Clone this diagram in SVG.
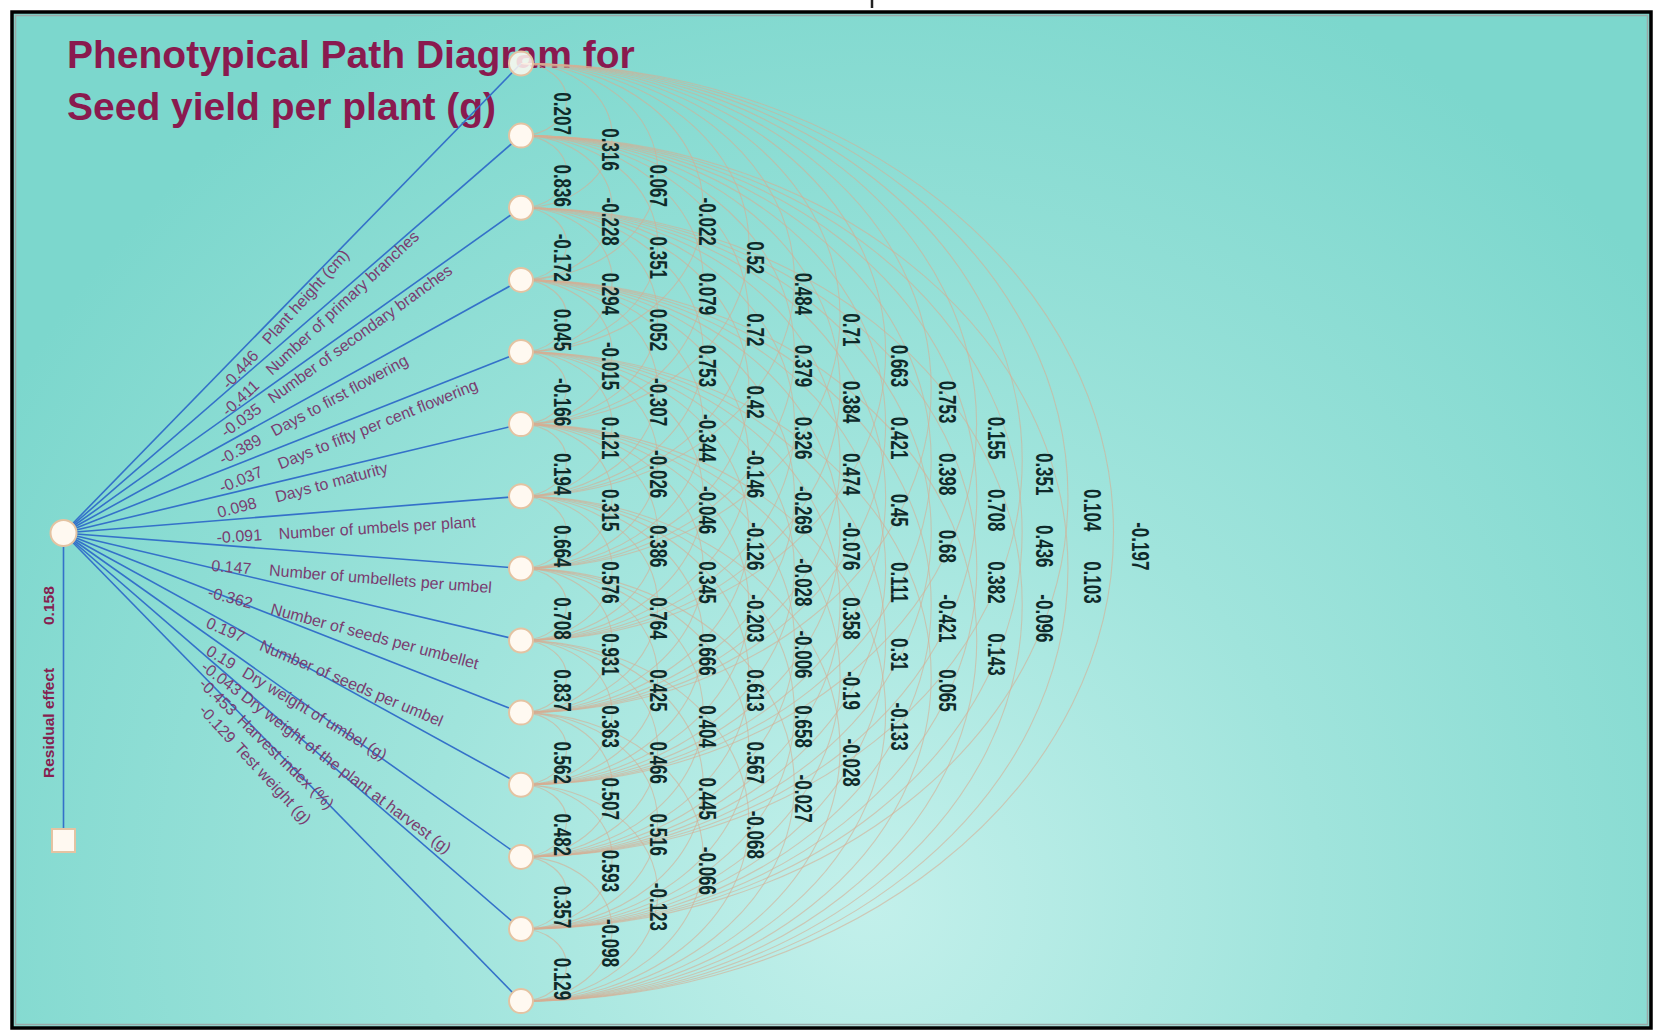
<svg xmlns="http://www.w3.org/2000/svg" width="1661" height="1034" viewBox="0 0 1661 1034">
<defs>
<radialGradient id="bg" gradientUnits="userSpaceOnUse" cx="870" cy="900" r="1000">
<stop offset="0" stop-color="#c3f0eb"/>
<stop offset="0.45" stop-color="#a0e4dc"/>
<stop offset="1" stop-color="#7cd7cd"/>
</radialGradient>
<style>
.arc{fill:none;stroke:#d6ad93;stroke-width:1.1;opacity:0.6}
.spoke{fill:none;stroke:#3471c9;stroke-width:1.6}
.node{fill:#fff9f1;stroke:#e4c3a2;stroke-width:2}
.num text{font-family:"Liberation Sans",Arial,sans-serif;font-weight:bold;font-size:17px;fill:#0e2a2a;text-anchor:middle}
.lbl{font-family:"Liberation Sans",Arial,sans-serif;font-size:16px;fill:#7a3d70}
.title{font-family:"Liberation Sans",Arial,sans-serif;font-weight:bold;font-size:39px;fill:#8a1a4f}
</style>
</defs>
<rect x="0" y="0" width="1661" height="1034" fill="#ffffff"/>
<rect x="13" y="13" width="1637" height="1014" fill="url(#bg)"/>
<rect x="15.5" y="15.5" width="1632" height="1009" fill="none" stroke="#9aa9a8" stroke-width="1.5"/>
<rect x="12" y="12" width="1639" height="1016" fill="none" stroke="#000" stroke-width="3.5"/>
<line x1="872" y1="0" x2="872" y2="8" stroke="#222" stroke-width="2.5"/>

<g id="title" class="title">
<text x="67" y="68">Phenotypical Path Diagram for</text>
<text x="67" y="120">Seed yield per plant (g)</text>
</g>

<g id="connectors">
<g id="correlation-arcs">
<path class="arc" d="M521 63.5A45.5 36 0 0 1 521 135.6"/>
<path class="arc" d="M521 135.6A45.5 36 0 0 1 521 207.7"/>
<path class="arc" d="M521 207.7A45.5 36 0 0 1 521 279.9"/>
<path class="arc" d="M521 279.9A45.5 36 0 0 1 521 352"/>
<path class="arc" d="M521 352A45.5 36 0 0 1 521 424.1"/>
<path class="arc" d="M521 424.1A45.5 36 0 0 1 521 496.2"/>
<path class="arc" d="M521 496.2A45.5 36 0 0 1 521 568.4"/>
<path class="arc" d="M521 568.4A45.5 36 0 0 1 521 640.5"/>
<path class="arc" d="M521 640.5A45.5 36 0 0 1 521 712.6"/>
<path class="arc" d="M521 712.6A45.5 36 0 0 1 521 784.7"/>
<path class="arc" d="M521 784.7A45.5 36 0 0 1 521 856.9"/>
<path class="arc" d="M521 856.9A45.5 36 0 0 1 521 929"/>
<path class="arc" d="M521 929A45.5 36 0 0 1 521 1001.1"/>
<path class="arc" d="M521 63.5A91 72 0 0 1 521 207.7"/>
<path class="arc" d="M521 135.6A91 72 0 0 1 521 279.9"/>
<path class="arc" d="M521 207.7A91 72 0 0 1 521 352"/>
<path class="arc" d="M521 279.9A91 72 0 0 1 521 424.1"/>
<path class="arc" d="M521 352A91 72 0 0 1 521 496.2"/>
<path class="arc" d="M521 424.1A91 72 0 0 1 521 568.4"/>
<path class="arc" d="M521 496.2A91 72 0 0 1 521 640.5"/>
<path class="arc" d="M521 568.4A91 72 0 0 1 521 712.6"/>
<path class="arc" d="M521 640.5A91 72 0 0 1 521 784.7"/>
<path class="arc" d="M521 712.6A91 72 0 0 1 521 856.9"/>
<path class="arc" d="M521 784.7A91 72 0 0 1 521 929"/>
<path class="arc" d="M521 856.9A91 72 0 0 1 521 1001.1"/>
<path class="arc" d="M521 63.5A136.5 108 0 0 1 521 279.9"/>
<path class="arc" d="M521 135.6A136.5 108 0 0 1 521 352"/>
<path class="arc" d="M521 207.7A136.5 108 0 0 1 521 424.1"/>
<path class="arc" d="M521 279.9A136.5 108 0 0 1 521 496.2"/>
<path class="arc" d="M521 352A136.5 108 0 0 1 521 568.4"/>
<path class="arc" d="M521 424.1A136.5 108 0 0 1 521 640.5"/>
<path class="arc" d="M521 496.2A136.5 108 0 0 1 521 712.6"/>
<path class="arc" d="M521 568.4A136.5 108 0 0 1 521 784.7"/>
<path class="arc" d="M521 640.5A136.5 108 0 0 1 521 856.9"/>
<path class="arc" d="M521 712.6A136.5 108 0 0 1 521 929"/>
<path class="arc" d="M521 784.7A136.5 108 0 0 1 521 1001.1"/>
<path class="arc" d="M521 63.5A182 144 0 0 1 521 352"/>
<path class="arc" d="M521 135.6A182 144 0 0 1 521 424.1"/>
<path class="arc" d="M521 207.7A182 144 0 0 1 521 496.2"/>
<path class="arc" d="M521 279.9A182 144 0 0 1 521 568.4"/>
<path class="arc" d="M521 352A182 144 0 0 1 521 640.5"/>
<path class="arc" d="M521 424.1A182 144 0 0 1 521 712.6"/>
<path class="arc" d="M521 496.2A182 144 0 0 1 521 784.7"/>
<path class="arc" d="M521 568.4A182 144 0 0 1 521 856.9"/>
<path class="arc" d="M521 640.5A182 144 0 0 1 521 929"/>
<path class="arc" d="M521 712.6A182 144 0 0 1 521 1001.1"/>
<path class="arc" d="M521 63.5A227.5 180 0 0 1 521 424.1"/>
<path class="arc" d="M521 135.6A227.5 180 0 0 1 521 496.2"/>
<path class="arc" d="M521 207.7A227.5 180 0 0 1 521 568.4"/>
<path class="arc" d="M521 279.9A227.5 180 0 0 1 521 640.5"/>
<path class="arc" d="M521 352A227.5 180 0 0 1 521 712.6"/>
<path class="arc" d="M521 424.1A227.5 180 0 0 1 521 784.7"/>
<path class="arc" d="M521 496.2A227.5 180 0 0 1 521 856.9"/>
<path class="arc" d="M521 568.4A227.5 180 0 0 1 521 929"/>
<path class="arc" d="M521 640.5A227.5 180 0 0 1 521 1001.1"/>
<path class="arc" d="M521 63.5A273 216 0 0 1 521 496.2"/>
<path class="arc" d="M521 135.6A273 216 0 0 1 521 568.4"/>
<path class="arc" d="M521 207.7A273 216 0 0 1 521 640.5"/>
<path class="arc" d="M521 279.9A273 216 0 0 1 521 712.6"/>
<path class="arc" d="M521 352A273 216 0 0 1 521 784.7"/>
<path class="arc" d="M521 424.1A273 216 0 0 1 521 856.9"/>
<path class="arc" d="M521 496.2A273 216 0 0 1 521 929"/>
<path class="arc" d="M521 568.4A273 216 0 0 1 521 1001.1"/>
<path class="arc" d="M521 63.5A318.5 252 0 0 1 521 568.4"/>
<path class="arc" d="M521 135.6A318.5 252 0 0 1 521 640.5"/>
<path class="arc" d="M521 207.7A318.5 252 0 0 1 521 712.6"/>
<path class="arc" d="M521 279.9A318.5 252 0 0 1 521 784.7"/>
<path class="arc" d="M521 352A318.5 252 0 0 1 521 856.9"/>
<path class="arc" d="M521 424.1A318.5 252 0 0 1 521 929"/>
<path class="arc" d="M521 496.2A318.5 252 0 0 1 521 1001.1"/>
<path class="arc" d="M521 63.5A364 288 0 0 1 521 640.5"/>
<path class="arc" d="M521 135.6A364 288 0 0 1 521 712.6"/>
<path class="arc" d="M521 207.7A364 288 0 0 1 521 784.7"/>
<path class="arc" d="M521 279.9A364 288 0 0 1 521 856.9"/>
<path class="arc" d="M521 352A364 288 0 0 1 521 929"/>
<path class="arc" d="M521 424.1A364 288 0 0 1 521 1001.1"/>
<path class="arc" d="M521 63.5A409.5 324 0 0 1 521 712.6"/>
<path class="arc" d="M521 135.6A409.5 324 0 0 1 521 784.7"/>
<path class="arc" d="M521 207.7A409.5 324 0 0 1 521 856.9"/>
<path class="arc" d="M521 279.9A409.5 324 0 0 1 521 929"/>
<path class="arc" d="M521 352A409.5 324 0 0 1 521 1001.1"/>
<path class="arc" d="M521 63.5A455 360 0 0 1 521 784.7"/>
<path class="arc" d="M521 135.6A455 360 0 0 1 521 856.9"/>
<path class="arc" d="M521 207.7A455 360 0 0 1 521 929"/>
<path class="arc" d="M521 279.9A455 360 0 0 1 521 1001.1"/>
<path class="arc" d="M521 63.5A500.5 396 0 0 1 521 856.9"/>
<path class="arc" d="M521 135.6A500.5 396 0 0 1 521 929"/>
<path class="arc" d="M521 207.7A500.5 396 0 0 1 521 1001.1"/>
<path class="arc" d="M521 63.5A546 432 0 0 1 521 929"/>
<path class="arc" d="M521 135.6A546 432 0 0 1 521 1001.1"/>
<path class="arc" d="M521 63.5A591.5 468 0 0 1 521 1001.1"/>
</g>
<g id="path-lines">
<line class="spoke" x1="63.5" y1="533" x2="521" y2="63.5"/>
<line class="spoke" x1="63.5" y1="533" x2="521" y2="135.6"/>
<line class="spoke" x1="63.5" y1="533" x2="521" y2="207.7"/>
<line class="spoke" x1="63.5" y1="533" x2="521" y2="279.9"/>
<line class="spoke" x1="63.5" y1="533" x2="521" y2="352"/>
<line class="spoke" x1="63.5" y1="533" x2="521" y2="424.1"/>
<line class="spoke" x1="63.5" y1="533" x2="521" y2="496.2"/>
<line class="spoke" x1="63.5" y1="533" x2="521" y2="568.4"/>
<line class="spoke" x1="63.5" y1="533" x2="521" y2="640.5"/>
<line class="spoke" x1="63.5" y1="533" x2="521" y2="712.6"/>
<line class="spoke" x1="63.5" y1="533" x2="521" y2="784.7"/>
<line class="spoke" x1="63.5" y1="533" x2="521" y2="856.9"/>
<line class="spoke" x1="63.5" y1="533" x2="521" y2="929"/>
<line class="spoke" x1="63.5" y1="533" x2="521" y2="1001.1"/>
<line class="spoke" x1="63.5" y1="533" x2="63.5" y2="830"/>
</g>
</g>

<g id="path-labels" class="lbl">
<text transform="translate(229 390) rotate(-48)"><tspan>-0.446</tspan><tspan x="60">Plant height (cm)</tspan></text>
<text transform="translate(228 417) rotate(-43)"><tspan>-0.411</tspan><tspan x="60">Number of primary branches</tspan></text>
<text transform="translate(226 438) rotate(-36)"><tspan>-0.035</tspan><tspan x="58">Number of secondary branches</tspan></text>
<text transform="translate(223 465) rotate(-28.5)"><tspan>-0.389</tspan><tspan x="59">Days to first flowering</tspan></text>
<text transform="translate(222 493) rotate(-22)"><tspan>-0.037</tspan><tspan x="63">Days to fifty per cent flowering</tspan></text>
<text transform="translate(219 518) rotate(-15)"><tspan>0.098</tspan><tspan x="60">Days to maturity</tspan></text>
<text transform="translate(217 543) rotate(-3.5)"><tspan>-0.091</tspan><tspan x="62">Number of umbels per plant</tspan></text>
<text transform="translate(211 571) rotate(4.5)"><tspan>0.147</tspan><tspan x="58">Number of umbellets per umbel</tspan></text>
<text transform="translate(207 597) rotate(15)"><tspan>-0.362</tspan><tspan x="65">Number of seeds per umbellet</tspan></text>
<text transform="translate(205 627) rotate(23)"><tspan>0.197</tspan><tspan x="58">Number of seeds per umbel</tspan></text>
<text transform="translate(205 654) rotate(31)"><tspan>0.19</tspan><tspan x="42">Dry weight of umbel (g)</tspan></text>
<text transform="translate(200 669) rotate(37)"><tspan>-0.043</tspan><tspan x="50">Dry weight of the plant at harvest (g)</tspan></text>
<text transform="translate(198 685) rotate(44)"><tspan>-0.453</tspan><tspan x="53">Harvest index (%)</tspan></text>
<text transform="translate(198 711) rotate(47)"><tspan>-0.129</tspan><tspan x="52">Test weight (g)</tspan></text>
<text transform="translate(54 778) rotate(-90)" style="fill:#86204f;font-size:15.5px;font-weight:bold"><tspan>Residual effect</tspan><tspan x="153">0.158</tspan></text>
</g>

<g id="correlations" class="num">
<g transform="rotate(90) scale(1 1.38)">
<text x="113.6" y="-401.4">0.207</text>
<text x="185.7" y="-401.4">0.836</text>
<text x="257.8" y="-401.4">-0.172</text>
<text x="329.9" y="-401.4">0.045</text>
<text x="402.1" y="-401.4">-0.166</text>
<text x="474.2" y="-401.4">0.194</text>
<text x="546.3" y="-401.4">0.664</text>
<text x="618.4" y="-401.4">0.708</text>
<text x="690.5" y="-401.4">0.837</text>
<text x="762.7" y="-401.4">0.562</text>
<text x="834.8" y="-401.4">0.482</text>
<text x="906.9" y="-401.4">0.357</text>
<text x="979" y="-401.4">0.129</text>
<text x="149.6" y="-436.4">0.316</text>
<text x="221.7" y="-436.4">-0.228</text>
<text x="293.9" y="-436.4">0.294</text>
<text x="366" y="-436.4">-0.015</text>
<text x="438.1" y="-436.4">0.121</text>
<text x="510.2" y="-436.4">0.315</text>
<text x="582.4" y="-436.4">0.576</text>
<text x="654.5" y="-436.4">0.931</text>
<text x="726.6" y="-436.4">0.363</text>
<text x="798.7" y="-436.4">0.507</text>
<text x="870.9" y="-436.4">0.593</text>
<text x="943" y="-436.4">-0.098</text>
<text x="185.7" y="-471.3">0.067</text>
<text x="257.8" y="-471.3">0.351</text>
<text x="329.9" y="-471.3">0.052</text>
<text x="402.1" y="-471.3">-0.307</text>
<text x="474.2" y="-471.3">-0.026</text>
<text x="546.3" y="-471.3">0.386</text>
<text x="618.4" y="-471.3">0.764</text>
<text x="690.5" y="-471.3">0.425</text>
<text x="762.7" y="-471.3">0.466</text>
<text x="834.8" y="-471.3">0.516</text>
<text x="906.9" y="-471.3">-0.123</text>
<text x="221.7" y="-506.2">-0.022</text>
<text x="293.9" y="-506.2">0.079</text>
<text x="366" y="-506.2">0.753</text>
<text x="438.1" y="-506.2">-0.344</text>
<text x="510.2" y="-506.2">-0.046</text>
<text x="582.4" y="-506.2">0.345</text>
<text x="654.5" y="-506.2">0.666</text>
<text x="726.6" y="-506.2">0.404</text>
<text x="798.7" y="-506.2">0.445</text>
<text x="870.9" y="-506.2">-0.066</text>
<text x="257.8" y="-541.1">0.52</text>
<text x="329.9" y="-541.1">0.72</text>
<text x="402.1" y="-541.1">0.42</text>
<text x="474.2" y="-541.1">-0.146</text>
<text x="546.3" y="-541.1">-0.126</text>
<text x="618.4" y="-541.1">-0.203</text>
<text x="690.5" y="-541.1">0.613</text>
<text x="762.7" y="-541.1">0.567</text>
<text x="834.8" y="-541.1">-0.068</text>
<text x="293.9" y="-576">0.484</text>
<text x="366" y="-576">0.379</text>
<text x="438.1" y="-576">0.326</text>
<text x="510.2" y="-576">-0.269</text>
<text x="582.4" y="-576">-0.028</text>
<text x="654.5" y="-576">-0.006</text>
<text x="726.6" y="-576">0.658</text>
<text x="798.7" y="-576">-0.027</text>
<text x="329.9" y="-610.9">0.71</text>
<text x="402.1" y="-610.9">0.384</text>
<text x="474.2" y="-610.9">0.474</text>
<text x="546.3" y="-610.9">-0.076</text>
<text x="618.4" y="-610.9">0.358</text>
<text x="690.5" y="-610.9">-0.19</text>
<text x="762.7" y="-610.9">-0.028</text>
<text x="366" y="-645.8">0.663</text>
<text x="438.1" y="-645.8">0.421</text>
<text x="510.2" y="-645.8">0.45</text>
<text x="582.4" y="-645.8">0.111</text>
<text x="654.5" y="-645.8">0.31</text>
<text x="726.6" y="-645.8">-0.133</text>
<text x="402.1" y="-680.7">0.753</text>
<text x="474.2" y="-680.7">0.398</text>
<text x="546.3" y="-680.7">0.68</text>
<text x="618.4" y="-680.7">-0.421</text>
<text x="690.5" y="-680.7">0.065</text>
<text x="438.1" y="-715.6">0.155</text>
<text x="510.2" y="-715.6">0.708</text>
<text x="582.4" y="-715.6">0.382</text>
<text x="654.5" y="-715.6">0.143</text>
<text x="474.2" y="-750.5">0.351</text>
<text x="546.3" y="-750.5">0.436</text>
<text x="618.4" y="-750.5">-0.096</text>
<text x="510.2" y="-785.4">0.104</text>
<text x="582.4" y="-785.4">0.103</text>
<text x="546.3" y="-820.3">-0.197</text>
</g>
</g>

<g id="node-seed-yield"><circle class="node" cx="63.5" cy="533" r="13"/></g>
<g id="node-residual"><rect class="node" x="52" y="829" width="23" height="23"/></g>
<g id="node-plant-height"><circle class="node" cx="521" cy="63.5" r="12" fill-opacity="0.85"/></g>
<g id="node-primary-branches"><circle class="node" cx="521" cy="135.6" r="12"/></g>
<g id="node-secondary-branches"><circle class="node" cx="521" cy="207.7" r="12"/></g>
<g id="node-days-first-flowering"><circle class="node" cx="521" cy="279.9" r="12"/></g>
<g id="node-days-fifty-flowering"><circle class="node" cx="521" cy="352" r="12"/></g>
<g id="node-days-maturity"><circle class="node" cx="521" cy="424.1" r="12"/></g>
<g id="node-umbels-per-plant"><circle class="node" cx="521" cy="496.2" r="12"/></g>
<g id="node-umbellets-per-umbel"><circle class="node" cx="521" cy="568.4" r="12"/></g>
<g id="node-seeds-per-umbellet"><circle class="node" cx="521" cy="640.5" r="12"/></g>
<g id="node-seeds-per-umbel"><circle class="node" cx="521" cy="712.6" r="12"/></g>
<g id="node-dry-weight-umbel"><circle class="node" cx="521" cy="784.7" r="12"/></g>
<g id="node-dry-weight-plant"><circle class="node" cx="521" cy="856.9" r="12"/></g>
<g id="node-harvest-index"><circle class="node" cx="521" cy="929" r="12"/></g>
<g id="node-test-weight"><circle class="node" cx="521" cy="1001.1" r="12"/></g>
</svg>
